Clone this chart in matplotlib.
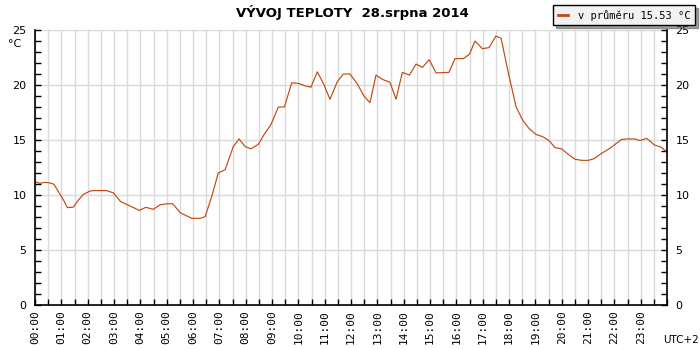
import matplotlib.pyplot as plt
from matplotlib.ticker import MultipleLocator, FixedLocator

# casy (hodiny) a teploty
hours = [0.0, 0.19, 0.38, 0.57, 0.72, 0.89, 1.08, 1.23, 1.46, 1.65, 1.84, 2.09, 2.22,
         2.72, 2.97, 3.25, 3.61, 3.96, 4.21, 4.49, 4.75, 5.0, 5.23, 5.51, 5.95,
         6.27, 6.46, 6.71, 6.96, 7.22, 7.53, 7.75, 7.98, 8.2, 8.48, 8.7, 8.96,
         9.24, 9.47, 9.75, 10.0, 10.29, 10.48, 10.72, 10.98, 11.2, 11.48, 11.71,
         11.96, 12.24, 12.49, 12.72, 12.95, 13.2, 13.48, 13.71, 13.95, 14.22,
         14.47, 14.71, 14.97, 15.23, 15.72, 15.95, 16.27, 16.5, 16.71, 16.99,
         17.24, 17.5, 17.7, 17.98, 18.27, 18.52, 18.76, 19.03, 19.28, 19.52,
         19.75, 20.0, 20.25, 20.51, 20.76, 21.01, 21.23, 21.52, 21.77, 22.03,
         22.28, 22.51, 22.78, 22.97, 23.23, 23.52, 23.77, 23.96]
temps = [11.2, 11.06, 11.15, 11.1, 10.97, 10.3, 9.55, 8.85, 8.9, 9.55, 10.06, 10.36, 10.4,
         10.4, 10.2, 9.4, 9.0, 8.6, 8.88, 8.7, 9.1, 9.2, 9.2, 8.4, 7.88,
         7.88, 8.03, 9.85, 12.0, 12.3, 14.4, 15.1, 14.4, 14.2, 14.6, 15.5, 16.4,
         18.0, 18.0, 20.2, 20.15, 19.9, 19.8, 21.2, 20.0, 18.7, 20.3, 21.0,
         21.0, 20.1, 19.0, 18.4, 20.9, 20.5, 20.25, 18.7, 21.15, 20.9,
         21.9, 21.6, 22.3, 21.1, 21.15, 22.4, 22.4, 22.8, 24.0, 23.3,
         23.4, 24.45, 24.25, 21.05, 18.0, 16.8, 16.05, 15.5, 15.3, 14.95,
         14.3, 14.2, 13.7, 13.25, 13.15, 13.15, 13.3, 13.8, 14.15, 14.6,
         15.05, 15.1, 15.1, 14.95, 15.15, 14.55, 14.35, 14.0]
hour_labels = ["%02d:00" % h for h in range(24)]
legend_text = "v průměru 15.53 °C"
title_text = "VÝVOJ TEPLOTY  28.srpna 2014"

line_color = "#c04a10"
grid_color = "#d9d9d9"

fig = plt.figure(figsize=(7, 3.5), dpi=100)
ax = fig.add_axes([35 / 700, 45 / 350, 632 / 700, 275 / 350])

ax.plot(hours, temps, color=line_color, linewidth=0.85)

ax.set_xlim(0, 24)
ax.set_ylim(0, 25)

ax.xaxis.set_major_locator(FixedLocator(range(24)))
ax.xaxis.set_minor_locator(MultipleLocator(0.5))
ax.set_xticklabels(hour_labels, rotation=90, fontsize=8, family="DejaVu Sans Mono")
ax.yaxis.set_major_locator(MultipleLocator(5))
ax.yaxis.set_minor_locator(MultipleLocator(1))

ax.tick_params(axis="both", which="both", direction="in", length=4, width=1,
               labelsize=8, color="black", pad=4)
ax.tick_params(axis="y", which="both", right=True, labelright=True, pad=6)
ax.tick_params(axis="x", which="both", pad=4)

ax.grid(True, which="both", axis="x", color=grid_color, linewidth=1)
ax.grid(True, which="major", axis="y", color=grid_color, linewidth=1)
ax.set_axisbelow(True)

ax.spines["top"].set_visible(False)
for s in ["left", "right", "bottom"]:
    ax.spines[s].set_linewidth(1.2)

fig.text(15 / 700, 1 - 44 / 350, "°C", fontsize=8, ha="center", va="center")
fig.text(352 / 700, 1 - 12 / 350, title_text, fontsize=9.5, fontweight="bold",
         ha="center", va="center")
fig.text(681 / 700, 1 - 340 / 350, "UTC+2", fontsize=7.5, ha="center", va="center")

h, = ax.plot([], [], color=line_color, linewidth=2)
leg = fig.legend([h], [legend_text], loc="upper right", bbox_to_anchor=(1.0, 1.0),
                 frameon=True, fancybox=False, shadow=True,
                 prop={"family": "DejaVu Sans Mono", "size": 7.5},
                 handlelength=1.0, borderpad=0.45, handletextpad=0.9)
leg.get_frame().set_edgecolor("black")
leg.get_frame().set_facecolor("#f2f2f2")
leg.get_frame().set_linewidth(1)

fig.savefig("out.png", dpi=100)
